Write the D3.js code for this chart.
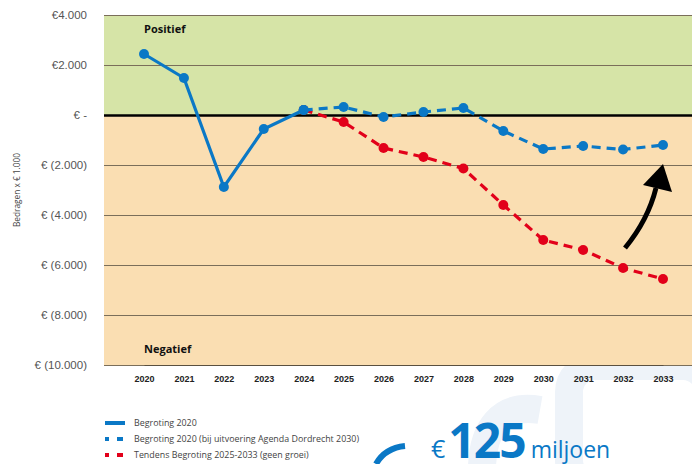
<!DOCTYPE html>
<html>
<head>
<meta charset="utf-8">
<script src="https://cdn.jsdelivr.net/npm/d3@7"></script>
<style>
  body { margin: 0; background: #fff; }
  svg { display: block; font-family: "Open Sans", "Noto Sans", sans-serif; }
</style>
</head>
<body>
<svg id="chart" width="692" height="464"></svg>
<script>
const years = [2020, 2021, 2022, 2023, 2024, 2025, 2026, 2027, 2028, 2029, 2030, 2031, 2032, 2033];
const begroting = [2440, 1480, -2880, -560, 200];
const agendaYears = [2024, 2025, 2026, 2027, 2028, 2029, 2030, 2031, 2032, 2033];
const agenda = [200, 320, -80, 120, 280, -640, -1360, -1240, -1380, -1200];
const tendensYears = [2024, 2025, 2026, 2027, 2028, 2029, 2030, 2031, 2032, 2033];
const tendens = [200, -280, -1320, -1680, -2140, -3600, -5000, -5400, -6120, -6560];
const yTicks = [4000, 2000, 0, -2000, -4000, -6000, -8000, -10000];
const legendLabels = ["Begroting 2020", "Begroting 2020 (bij uitvoering Agenda Dordrecht 2030)", "Tendens Begroting 2025-2033 (geen groei)"];

const blue = "#0a78c6", red = "#e2001a";
const svg = d3.select("#chart");
const margin = { top: 15, right: 0, bottom: 99, left: 104 };
const width = 692 - margin.left - margin.right;
const height = 464 - margin.top - margin.bottom;

// faint background decoration
const deco = svg.append("g").attr("fill", "none").attr("stroke", "#eef3f9");
deco.append("rect").attr("x", 569).attr("y", 366).attr("width", 140).attr("height", 120).attr("rx", 26)
  .attr("stroke-width", 28);
deco.append("path").attr("d", "M540,410 C500,403 482,430 482,470").attr("stroke-width", 28);

const g = svg.append("g").attr("transform", `translate(${margin.left},${margin.top})`);

const x = d3.scalePoint().domain(years).range([40, 559]);
const y = d3.scaleLinear().domain([-10000, 4000]).range([height, 0]);

g.append("rect").attr("x", 0).attr("y", y(4000)).attr("width", width).attr("height", y(0) - y(4000)).attr("fill", "#d6e4a7");
g.append("rect").attr("x", 0).attr("y", y(0)).attr("width", width).attr("height", y(-10000) - y(0)).attr("fill", "#fadeb2");

const fmt = v => v === 0 ? "€ -" : v > 0 ? "€" + d3.format(",")(v).replace(/,/g, ".") : "€ (" + d3.format(",")(-v).replace(/,/g, ".") + ")";

const yAxis = g.append("g")
  .call(d3.axisLeft(y).tickValues(yTicks).tickSize(-width).tickFormat(fmt).tickPadding(17));
yAxis.select(".domain").remove();
yAxis.selectAll(".tick line").attr("stroke", d => d === 0 ? "#000" : "#7a6e5a").attr("stroke-width", d => d === 0 ? 2.5 : 1.2);
yAxis.selectAll(".tick text").attr("fill", "#555").style("font-size", "11.5px");

const xAxis = g.append("g").attr("transform", `translate(0,${height})`)
  .call(d3.axisBottom(x).tickSize(0).tickPadding(11));
xAxis.select(".domain").attr("stroke", "#5a5040").attr("stroke-width", 1.2);
xAxis.selectAll(".tick text").attr("fill", "#222").style("font-size", "9px").style("font-weight", "600");

g.append("text").attr("x", 40).attr("y", 18).text("Positief").style("font-size", "11px").style("font-weight", "bold").attr("fill", "#111");
g.append("text").attr("x", 40).attr("y", 338).text("Negatief").style("font-size", "11px").style("font-weight", "bold").attr("fill", "#111");

svg.append("text").attr("transform", "translate(20,190) rotate(-90)").attr("text-anchor", "middle")
  .text("Bedragen x € 1.000").style("font-size", "8.3px").attr("fill", "#444");

const line = d3.line().x(d => x(d[0])).y(d => y(d[1]));

function series(ys, vals, color, dash) {
  const pts = ys.map((yr, i) => [yr, vals[i]]);
  g.append("path").datum(pts).attr("d", line).attr("fill", "none").attr("stroke", color)
    .attr("stroke-width", 3.2).attr("stroke-dasharray", dash);
  g.selectAll(null).data(pts).enter().append("circle")
    .attr("cx", d => x(d[0])).attr("cy", d => y(d[1])).attr("r", 5).attr("fill", color);
}
series(tendensYears, tendens, red, "9,6");
series(agendaYears, agenda, blue, "9,6");
series(years.slice(0, begroting.length), begroting, blue, null);

// curved arrow
svg.append("path").attr("d", "M625,248 Q648,220 656,188").attr("fill", "none").attr("stroke", "#000").attr("stroke-width", 5);
svg.append("path").attr("d", "M643,185 L663,164 L672,192 Z").attr("fill", "#000");

// legend
const leg = svg.append("g").attr("transform", "translate(105,423)");
legendLabels.forEach((lab, i) => {
  const row = leg.append("g").attr("transform", `translate(0,${i * 16})`);
  if (i === 0) {
    row.append("rect").attr("x", 0).attr("y", -2).attr("width", 20).attr("height", 4).attr("fill", blue);
  } else {
    const c = i === 1 ? blue : red;
    row.append("rect").attr("x", 0).attr("y", -2).attr("width", 4).attr("height", 4).attr("fill", c);
    row.append("rect").attr("x", 12).attr("y", -2).attr("width", 6).attr("height", 4).attr("fill", c);
  }
  row.append("text").attr("x", 29).attr("y", 3).text(lab).style("font-size", "8.9px").attr("fill", "#444");
});

// headline
svg.append("path").attr("d", "M405,446 Q385,448 376,464").attr("fill", "none").attr("stroke", blue).attr("stroke-width", 6);
const t = svg.append("text").attr("x", 431).attr("y", 458).attr("fill", blue);
t.append("tspan").text("€").style("font-size", "25px");
t.append("tspan").attr("dx", 3).text("125").style("font-size", "48px").style("font-weight", "bold").style("letter-spacing", "-2px");
t.append("tspan").attr("dx", 6).text("miljoen").style("font-size", "23px");
</script>
</body>
</html>
